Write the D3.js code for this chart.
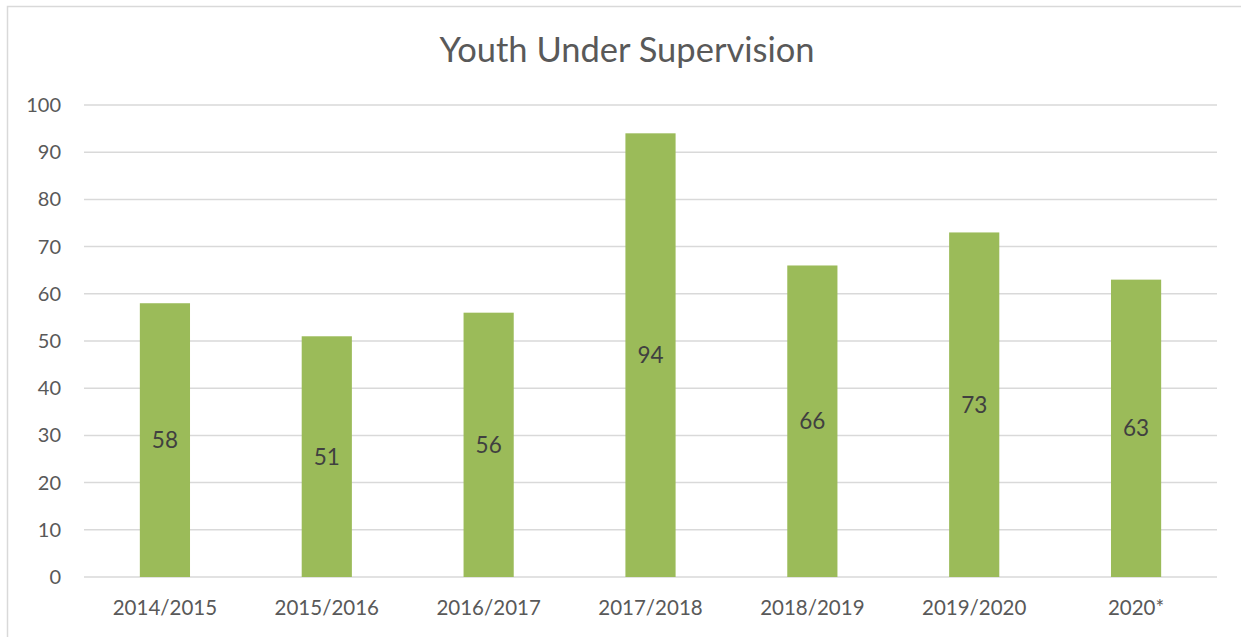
<html>
<head>
<meta charset="utf-8">
<script src="https://d3js.org/d3.v7.min.js"></script>
<style>
  body { margin: 0; padding: 0; background: #fff; }
  svg { font-family: Lato, "Open Sans", sans-serif; }
</style>
</head>
<body>
<script>
// chart data
var years = ["2014/2015", "2015/2016", "2016/2017", "2017/2018", "2018/2019", "2019/2020", "2020*"];
var youth = [58, 51, 56, 94, 66, 73, 63];
var yTicks = [0, 10, 20, 30, 40, 50, 60, 70, 80, 90, 100];

var w = 1241, h = 637;
var margin = {left: 84, right: 24, top: 105, bottom: 60};

var svg = d3.select("body").append("svg")
    .attr("width", w)
    .attr("height", h);

// outer frame
svg.append("rect")
    .attr("x", 7.5).attr("y", 6.5)
    .attr("width", w).attr("height", h)
    .attr("fill", "none")
    .attr("stroke", "#d9d9d9")
    .attr("stroke-width", 1.5);

svg.append("text")
    .attr("x", 627).attr("y", 62)
    .attr("text-anchor", "middle")
    .attr("font-size", 34.5)
    .attr("fill", "#595959")
    .text("Youth Under Supervision");

var x = d3.scaleBand()
    .domain(years)
    .range([margin.left, w - margin.right])
    .paddingInner(0.69)
    .paddingOuter(0.345);

var y = d3.scaleLinear()
    .domain([0, 100])
    .range([577, 105]);

// gridlines
svg.append("g")
    .selectAll("line")
    .data(yTicks)
    .enter().append("line")
    .attr("x1", margin.left).attr("x2", w - margin.right)
    .attr("y1", function(d) { return y(d); })
    .attr("y2", function(d) { return y(d); })
    .attr("stroke", "#d9d9d9")
    .attr("stroke-width", 1.5);

// y labels
svg.append("g")
    .selectAll("text")
    .data(yTicks)
    .enter().append("text")
    .attr("x", 61)
    .attr("y", function(d) { return y(d); })
    .attr("dy", "0.35em")
    .attr("text-anchor", "end")
    .attr("font-size", 20)
    .attr("fill", "#595959")
    .text(function(d) { return d; });

// bars
svg.append("g")
    .selectAll("rect")
    .data(youth)
    .enter().append("rect")
    .attr("x", function(d, i) { return x(years[i]); })
    .attr("width", x.bandwidth())
    .attr("y", function(d) { return y(d); })
    .attr("height", function(d) { return y(0) - y(d); })
    .attr("fill", "#9bbb59");

// value labels
svg.append("g")
    .selectAll("text")
    .data(youth)
    .enter().append("text")
    .attr("x", function(d, i) { return x(years[i]) + x.bandwidth() / 2; })
    .attr("y", function(d) { return (y(d) + y(0)) / 2; })
    .attr("dy", "0.35em")
    .attr("text-anchor", "middle")
    .attr("font-size", 22.5)
    .attr("fill", "#404040")
    .text(function(d) { return d; });

// x labels
svg.append("g")
    .selectAll("text")
    .data(years)
    .enter().append("text")
    .attr("x", function(d) { return x(d) + x.bandwidth() / 2; })
    .attr("y", 608)
    .attr("dy", "0.35em")
    .attr("text-anchor", "middle")
    .attr("font-size", 20.5)
    .attr("fill", "#595959")
    .text(function(d) { return d; });
</script>
</body>
</html>
